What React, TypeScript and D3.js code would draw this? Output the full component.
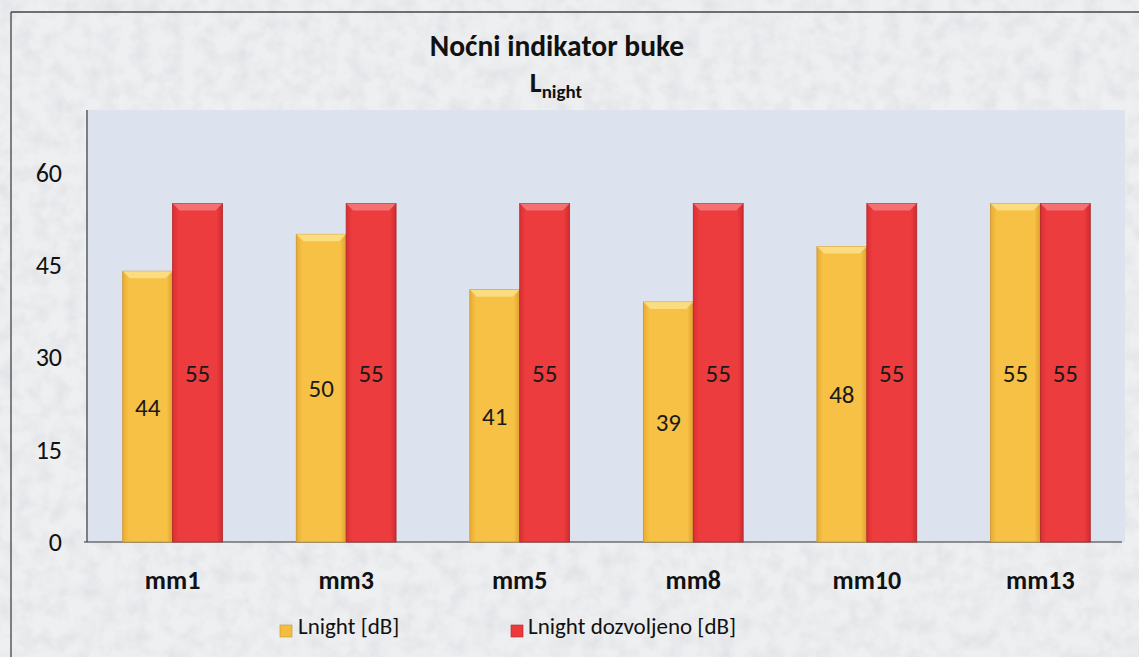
import React from "react";
import * as d3 from "d3";

const categories = ["mm1", "mm3", "mm5", "mm8", "mm10", "mm13"];
const lnight = [44, 50, 41, 39, 48, 55];
const lnightAllowed = [55, 55, 55, 55, 55, 55];
const yTicks = [0, 15, 30, 45, 60];
const seriesNames = ["Lnight [dB]", "Lnight dozvoljeno [dB]"];

const W = 1139;
const H = 657;
const plot = { left: 88, right: 1125, top: 110, bottom: 542 };

const FONT = "Carlito, 'Open Sans', 'Noto Sans', sans-serif";

export default function App() {
  const x = d3
    .scaleBand<string>()
    .domain(categories)
    .range([plot.left, plot.right])
    .paddingInner(0.425)
    .paddingOuter(0.2);
  const x1 = d3.scaleBand<number>().domain([0, 1]).range([0, x.bandwidth()]).padding(0);
  const y = d3.scaleLinear().domain([0, 70.2]).range([plot.bottom, plot.top]);

  const series = [
    { name: seriesNames[0], values: lnight, fill: "#f5bd3f", light: "#fbe08a", dark: "#c9932a", grad: "gY" },
    { name: seriesNames[1], values: lnightAllowed, fill: "#ec3a3c", light: "#f47a7a", dark: "#b32328", grad: "gR" },
  ];

  const bev = 7;

  return (
    <svg
      width={W}
      height={H}
      style={{ position: "absolute", left: 0, top: 0 }}
      xmlns="http://www.w3.org/2000/svg"
    >
      <defs>
        <filter id="paper" x="0" y="0" width="100%" height="100%">
          <feTurbulence type="fractalNoise" baseFrequency="0.06" numOctaves="3" seed="4" result="n" />
          <feColorMatrix
            in="n"
            type="matrix"
            values="0 0 0 0 0.55  0 0 0 0 0.56  0 0 0 0 0.6  0 0 0 -1.6 1.0"
            result="c"
          />
          <feComposite in="c" in2="SourceGraphic" operator="in" />
        </filter>
        <linearGradient id="gY" x1="0" x2="1" y1="0" y2="0">
          <stop offset="0" stopColor="#e9ab32" />
          <stop offset="0.12" stopColor="#f6c145" />
          <stop offset="0.88" stopColor="#f6c145" />
          <stop offset="1" stopColor="#e0a030" />
        </linearGradient>
        <linearGradient id="gR" x1="0" x2="1" y1="0" y2="0">
          <stop offset="0" stopColor="#d92f33" />
          <stop offset="0.12" stopColor="#ed3c3e" />
          <stop offset="0.88" stopColor="#ed3c3e" />
          <stop offset="1" stopColor="#cf2b30" />
        </linearGradient>
      </defs>

      {/* paper background */}
      <rect x={0} y={0} width={W} height={H} fill="#eeeff1" />
      <rect x={0} y={0} width={W} height={H} fill="#eeeff1" filter="url(#paper)" opacity={0.35} />

      {/* outer border */}
      <line x1={11} y1={12} x2={W} y2={12} stroke="#444" strokeWidth={1.3} />
      <line x1={11} y1={12} x2={11} y2={H} stroke="#444" strokeWidth={1.3} />

      {/* title */}
      <text x={557} y={56} textAnchor="middle" fontFamily={FONT} fontWeight={700} fontSize={29.5} fill="#111">
        Noćni indikator buke
      </text>
      <text x={556} y={92} textAnchor="middle" fontFamily={FONT} fontWeight={700} fill="#111">
        <tspan fontSize={28}>L</tspan>
        <tspan fontSize={19} dy={6}>night</tspan>
      </text>

      {/* plot area */}
      <rect
        x={plot.left}
        y={plot.top}
        width={plot.right - plot.left}
        height={plot.bottom - plot.top}
        fill="#dde3ee"
      />
      <line x1={87} y1={plot.top} x2={87} y2={plot.bottom} stroke="#333" strokeWidth={1.2} />
      <line x1={84} y1={plot.bottom} x2={1122} y2={plot.bottom} stroke="#333" strokeWidth={1.2} />

      {/* y ticks */}
      {yTicks.map((t) => (
        <text
          key={t}
          x={62}
          y={y(t) + 9}
          textAnchor="end"
          fontFamily={FONT}
          fontSize={26}
          fill="#111"
        >
          {t}
        </text>
      ))}

      {/* bars */}
      {categories.map((c, i) => (
        <g key={c}>
          {series.map((s, si) => {
            const bx = (x(c) ?? 0) + (x1(si) ?? 0);
            const bw = x1.bandwidth();
            const top = y(s.values[i]);
            const bottom = y(0);
            const cy = (top + bottom) / 2;
            return (
              <g key={si}>
                <rect x={bx} y={top} width={bw} height={bottom - top} fill={`url(#${s.grad})`} stroke={s.dark} strokeWidth={0.8} />
                <path
                  d={`M${bx},${top}L${bx + bw},${top}L${bx + bw - bev},${top + bev}L${bx + bev},${top + bev}Z`}
                  fill={s.light}
                  opacity={0.85}
                />
                <text
                  x={bx + bw / 2}
                  y={cy + 9}
                  textAnchor="middle"
                  fontFamily={FONT}
                  fontSize={25}
                  fill="#1a1a1a"
                >
                  {s.values[i]}
                </text>
              </g>
            );
          })}
          <text
            x={(x(c) ?? 0) + x.bandwidth() / 2}
            y={589}
            textAnchor="middle"
            fontFamily={FONT}
            fontWeight={700}
            fontSize={26}
            fill="#111"
          >
            {c}
          </text>
        </g>
      ))}

      {/* legend */}
      {[
        { sx: 280, tx: 298 },
        { sx: 511, tx: 528 },
      ].map((p, i) => (
        <g key={i}>
          <rect x={p.sx} y={625} width={12} height={12} fill={series[i].fill} stroke={series[i].dark} strokeWidth={0.6} />
          <text x={p.tx} y={634} fontFamily={FONT} fontSize={23} fill="#111">
            {series[i].name}
          </text>
        </g>
      ))}
    </svg>
  );
}
